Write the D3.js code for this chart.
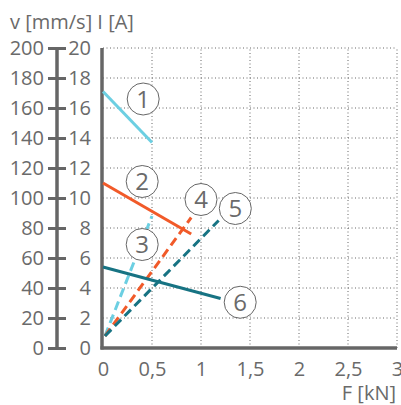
<!DOCTYPE html>
<html>
<head>
  <meta charset="utf-8">
  <style>
    body { margin: 0; background: #fff; }
    svg { font-family: "Open Sans", "Noto Sans", sans-serif; }
    .tick text, .lbl { fill: #6a6a6a; }
  </style>
</head>
<body>
  <div id="chart"></div>
  <script src="https://d3js.org/d3.v7.min.js"></script>
  <script>
    // values (F in kN, I in A)
    var curve1 = [[0, 17.1], [0.5, 13.7]];
    var curve2 = [[0, 11.0], [0.9, 7.6]];
    var curve3 = [[0.02, 0.8], [0.5, 8.8]];
    var curve4 = [[0.02, 0.8], [0.9, 8.7]];
    var curve5 = [[0.02, 0.8], [1.18, 8.5]];
    var curve6 = [[0, 5.4], [1.2, 3.3]];
    var curveNames = ["1", "2", "3", "4", "5", "6"];
    var labelAt = [[0.41, 16.6], [0.4, 11.1], [0.4, 6.9], [1.0, 9.9], [1.35, 9.3], [1.4, 3.05]];
    var xTicks = [0, 0.5, 1, 1.5, 2, 2.5, 3];
    var iTicks = [0, 2, 4, 6, 8, 10, 12, 14, 16, 18, 20];
    var vTicks = [0, 20, 40, 60, 80, 100, 120, 140, 160, 180, 200];

    var curves = [curve1, curve2, curve3, curve4, curve5, curve6];
    var colors = ["#6ccfe2", "#f15a29", "#6ccfe2", "#f15a29", "#177383", "#177383"];
    var dashed = [false, false, true, true, true, false];

    var width = 401, height = 405;
    var svg = d3.select("#chart").append("svg")
      .attr("width", width)
      .attr("height", height);

    var x = d3.scaleLinear().domain([0, 3]).range([103, 397]);
    var y = d3.scaleLinear().domain([0, 20]).range([348, 48]);
    var yv = d3.scaleLinear().domain([0, 200]).range([348, 48]);

    // dotted grid
    var grid = svg.append("g")
      .attr("stroke", "#666")
      .attr("stroke-width", 1)
      .attr("stroke-dasharray", "1,2.5");
    grid.selectAll("line.gx")
      .data(xTicks.slice(1))
      .enter().append("line")
      .attr("x1", function(d) { return x(d); })
      .attr("x2", function(d) { return x(d); })
      .attr("y1", y(0))
      .attr("y2", y(20));
    grid.selectAll("line.gy")
      .data(iTicks.slice(1))
      .enter().append("line")
      .attr("x1", x(0))
      .attr("x2", x(3))
      .attr("y1", function(d) { return y(d); })
      .attr("y2", function(d) { return y(d); });

    // outer axis v [mm/s]
    var vAxis = svg.append("g")
      .attr("transform", "translate(57,0)")
      .call(d3.axisLeft(yv).tickValues(vTicks).tickSize(0).tickPadding(13));
    vAxis.select(".domain").remove();
    vAxis.selectAll(".tick line")
      .attr("x1", -9).attr("x2", 9)
      .attr("stroke", "#666").attr("stroke-width", 3);
    svg.append("line")
      .attr("x1", 57).attr("x2", 57)
      .attr("y1", yv(200)).attr("y2", yv(0))
      .attr("stroke", "#666").attr("stroke-width", 3.5);

    // inner axis I [A]
    var iAxis = svg.append("g")
      .attr("transform", "translate(" + x(0) + ",0)")
      .call(d3.axisLeft(y).tickValues(iTicks).tickSize(0).tickPadding(12));
    iAxis.select(".domain").remove();

    // x axis F [kN]
    var xAxis = svg.append("g")
      .attr("transform", "translate(0," + y(0) + ")")
      .call(d3.axisBottom(x).tickValues(xTicks).tickSize(0).tickPadding(14)
        .tickFormat(function(d) { return String(d).replace(".", ","); }));
    xAxis.select(".domain").remove();

    svg.selectAll(".tick text")
      .style("font-size", "20px")
      .style("font-family", "'Open Sans', 'Noto Sans', sans-serif");

    svg.append("line")
      .attr("x1", x(0) - 1).attr("x2", x(0) - 1)
      .attr("y1", y(20)).attr("y2", y(0) + 1.5)
      .attr("stroke", "#666").attr("stroke-width", 3.5);
    svg.append("line")
      .attr("x1", x(0) - 2.5).attr("x2", x(3))
      .attr("y1", y(0)).attr("y2", y(0))
      .attr("stroke", "#666").attr("stroke-width", 3.5);

    // curves
    var line = d3.line()
      .x(function(d) { return x(d[0]); })
      .y(function(d) { return y(d[1]); });
    svg.selectAll("path.curve")
      .data(curves)
      .enter().append("path")
      .attr("class", "curve")
      .attr("d", line)
      .attr("fill", "none")
      .attr("stroke", function(d, i) { return colors[i]; })
      .attr("stroke-width", 3)
      .attr("stroke-dasharray", function(d, i) { return dashed[i] ? "9,5" : null; });

    // circled labels
    var marks = svg.selectAll("g.mark")
      .data(labelAt)
      .enter().append("g")
      .attr("class", "mark")
      .attr("transform", function(d) { return "translate(" + x(d[0]) + "," + y(d[1]) + ")"; });
    marks.append("circle")
      .attr("r", 16)
      .attr("fill", "#fff")
      .attr("stroke", "#666")
      .attr("stroke-width", 1);
    marks.append("text")
      .attr("class", "lbl")
      .attr("text-anchor", "middle")
      .attr("dy", "0.36em")
      .style("font-size", "24px")
      .text(function(d, i) { return curveNames[i]; });

    // axis titles
    svg.append("text")
      .attr("class", "lbl")
      .attr("x", 10).attr("y", 29)
      .style("font-size", "20px")
      .text("v [mm/s] I [A]");
    svg.append("text")
      .attr("class", "lbl")
      .attr("x", 396).attr("y", 400)
      .attr("text-anchor", "end")
      .style("font-size", "20px")
      .text("F [kN]");
  </script>
</body>
</html>
